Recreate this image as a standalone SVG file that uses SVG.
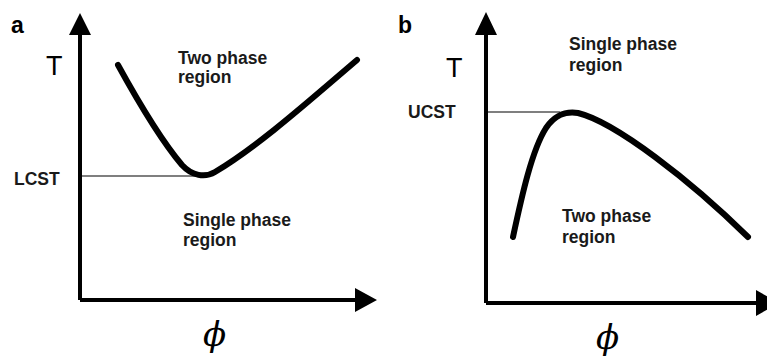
<svg xmlns="http://www.w3.org/2000/svg" width="767" height="358" viewBox="0 0 767 358">
<defs>
<style>
.axis{stroke:#000;stroke-width:4;fill:none}
.curve{stroke:#000;stroke-width:6;fill:none;stroke-linecap:round;stroke-linejoin:round}
.thin{stroke:#000;stroke-width:1.2}
.lbl{font-family:"Liberation Sans",Arial,sans-serif;font-weight:bold;font-size:17.5px;fill:#1a1a1a}
.big{font-family:"Liberation Sans",Arial,sans-serif;font-size:27px;fill:#000}
.pan{font-family:"Liberation Sans",Arial,sans-serif;font-weight:bold;font-size:23px;fill:#000}
.phi{font-family:"DejaVu Serif",serif;font-style:italic;font-size:34px;fill:#000}
</style>
</defs>
<g id="panel-a">
<text class="pan" x="11" y="33">a</text>
<text class="big" x="46" y="75">T</text>
<text class="lbl" x="14" y="185">LCST</text>
<text class="lbl" x="178" y="64">Two phase</text>
<text class="lbl" x="178" y="83">region</text>
<text class="lbl" x="183" y="226">Single phase</text>
<text class="lbl" x="183" y="246">region</text>
<text class="phi" x="203" y="346">ϕ</text>
</g>
<g id="panel-b">
<text class="pan" x="398" y="33">b</text>
<text class="big" x="446" y="77">T</text>
<text class="lbl" x="408" y="118">UCST</text>
<text class="lbl" x="569" y="50">Single phase</text>
<text class="lbl" x="569" y="71">region</text>
<text class="lbl" x="562" y="222">Two phase</text>
<text class="lbl" x="562" y="243">region</text>
<text class="phi" x="596" y="349">ϕ</text>
</g>
<g id="connectors">
<path class="axis" d="M80,300 V30 M80,300 H358"/>
<path d="M69,35 L80,13 L91,35 Z M355,288 L377,300 L355,312 Z" fill="#000"/>
<path class="axis" d="M486,303 V30 M486,303 H760"/>
<path d="M475,35 L486,12 L497,35 Z M756,290 L779,303 L756,316 Z" fill="#000"/>
<line class="thin" x1="80" y1="176" x2="198" y2="176"/>
<line class="thin" x1="486" y1="112" x2="560" y2="112"/>
<path class="curve" d="M118,65 C140,105 165,145 182,165 C192,176 205,178 215,172 C260,145 310,100 357,60"/>
<path class="curve" d="M513,237 C522,195 532,150 546,128 C555,115 565,111 578,113 C615,122 690,180 748,237"/>
</g>
</svg>
